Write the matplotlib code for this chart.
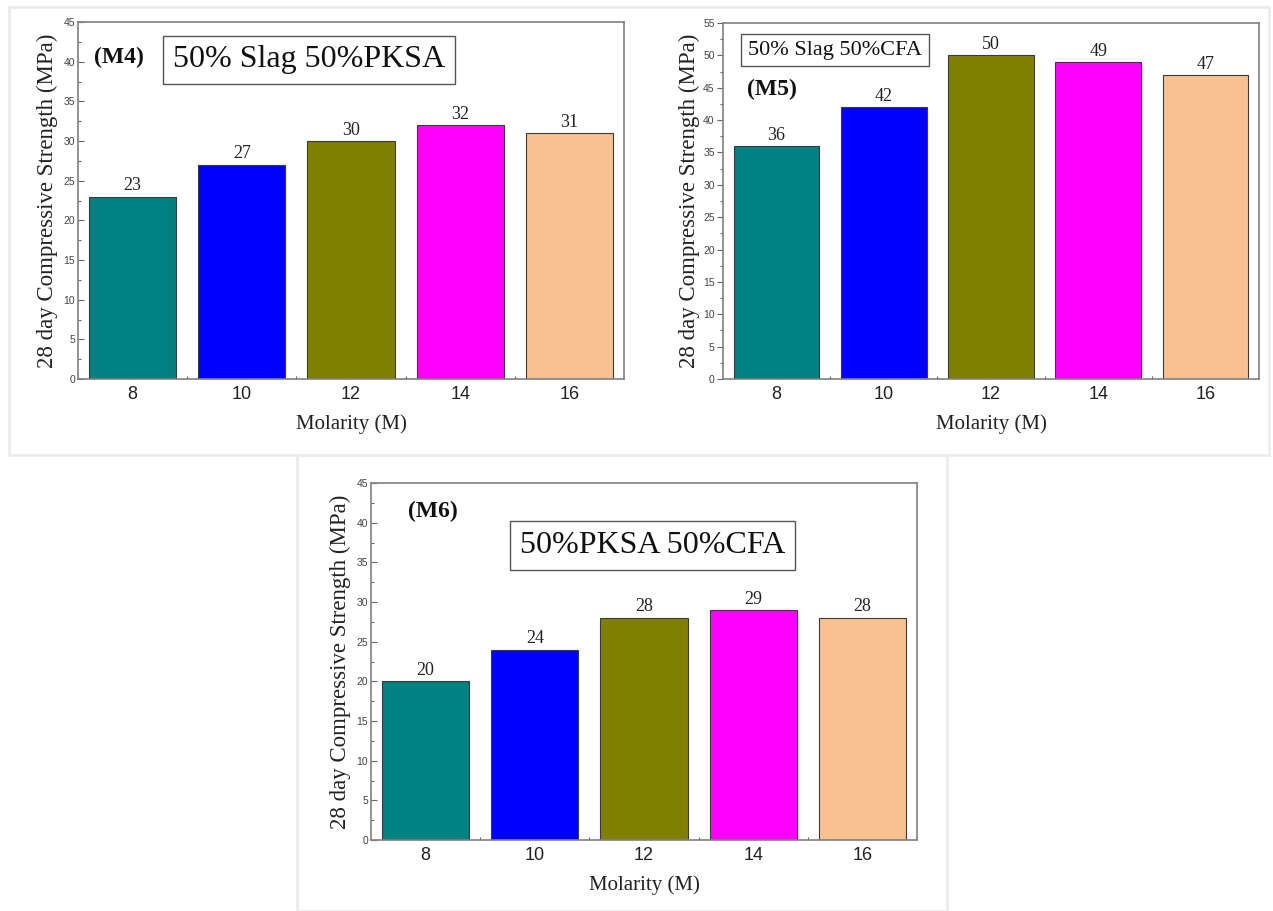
import matplotlib
matplotlib.use("Agg")
import matplotlib.pyplot as plt
from matplotlib.patches import Rectangle
from matplotlib.ticker import MultipleLocator, FixedLocator
import numpy as np

# Data
molarity = [8, 10, 12, 14, 16]
strength_m4 = [23, 27, 30, 32, 31]
strength_m5 = [36, 42, 50, 49, 47]
strength_m6 = [20, 24, 28, 29, 28]
bar_colors = ['#008080', '#0000FF', '#808000', '#FF00FF', '#F8C18F']

serif = 'Liberation Serif'
sans = 'Liberation Sans'

W, H = 1273, 911
fig = plt.figure(figsize=(W / 100, H / 100), dpi=100)


def px_rect(x0, y0, x1, y1):
    # pixel box (top-left origin) -> figure fraction [l, b, w, h]
    return [x0 / W, 1 - y1 / H, (x1 - x0) / W, (y1 - y0) / H]


# faint panel borders from the source image
for x0, y0, x1, y1 in [(9, 7, 1269, 455), (297, 455, 947, 911)]:
    l, b, w, h = px_rect(x0, y0, x1, y1)
    fig.patches.append(Rectangle((l, b), w, h, transform=fig.transFigure,
                                 fill=False, edgecolor='#ececec', lw=2))


def panel(box, values, ymax, tag, tag_xy, note, note_xy, note_size, tick_dir, ylab_x):
    ax = fig.add_axes(px_rect(*box))
    ax.bar(molarity, values, width=1.6, color=bar_colors,
           edgecolor='#3a3a3a', linewidth=0.8, zorder=2)
    for x, v in zip(molarity, values):
        ax.text(x, v + 0.3, str(v), ha='center', va='bottom',
                family=serif, fontsize=13, color='#222222')
    ax.set_xlim(7, 17)
    ax.set_ylim(0, ymax)
    ax.set_xticks(molarity)
    ax.xaxis.set_minor_locator(FixedLocator(np.array(molarity[:-1]) + 1))
    ax.yaxis.set_major_locator(MultipleLocator(5))
    ax.yaxis.set_minor_locator(MultipleLocator(2.5))
    ax.tick_params(axis='x', which='major', direction='in', length=4,
                   width=0.8, color='#666666', pad=5, labelsize=13,
                   labelcolor='#222222')
    ax.tick_params(axis='x', which='minor', direction='in', length=2,
                   width=0.8, color='#666666')
    ax.tick_params(axis='y', which='major', direction=tick_dir, length=4,
                   width=0.8, color='#666666', pad=2, labelsize=7.5,
                   labelcolor='#444444')
    ax.tick_params(axis='y', which='minor', direction=tick_dir, length=2,
                   width=0.8, color='#666666')
    for lab in ax.get_xticklabels() + ax.get_yticklabels():
        lab.set_family(sans)
    for sp in ax.spines.values():
        sp.set_color('#808080')
        sp.set_linewidth(1.2)
    ax.set_xlabel('Molarity (M)', family=serif, fontsize=15, color='#222222')
    ax.xaxis.set_label_coords(0.5, -0.1)
    ax.xaxis.label.set_va('top')
    ax.set_ylabel('28 day Compressive Strength (MPa)', family=serif,
                  fontsize=16.5, color='#222222')
    ax.yaxis.set_label_coords(ylab_x, 0.5)
    ax.text(tag_xy[0], tag_xy[1], tag, transform=ax.transAxes, ha='left',
            va='center', family=serif, fontweight='bold', fontsize=17,
            color='#111111')
    ax.text(note_xy[0], note_xy[1], note, transform=ax.transAxes, ha='center',
            va='center', family=serif, fontsize=note_size, color='#111111',
            bbox=dict(boxstyle='square,pad=0.3', facecolor='white',
                      edgecolor='#555555', linewidth=1.0))
    return ax


panel((78, 22, 624, 379), strength_m4, 45, '(M4)', (0.029, 0.902),
      '50% Slag 50%PKSA', (0.423, 0.894), 23, 'in', -0.036)
panel((723, 23, 1259, 379), strength_m5, 55, '(M5)', (0.045, 0.812),
      '50% Slag 50%CFA', (0.209, 0.924), 16, 'out', -0.043)
panel((371, 483, 917, 840), strength_m6, 45, '(M6)', (0.068, 0.919),
      '50%PKSA 50%CFA', (0.516, 0.825), 23, 'in', -0.036)

fig.savefig('out.png', dpi=100)
